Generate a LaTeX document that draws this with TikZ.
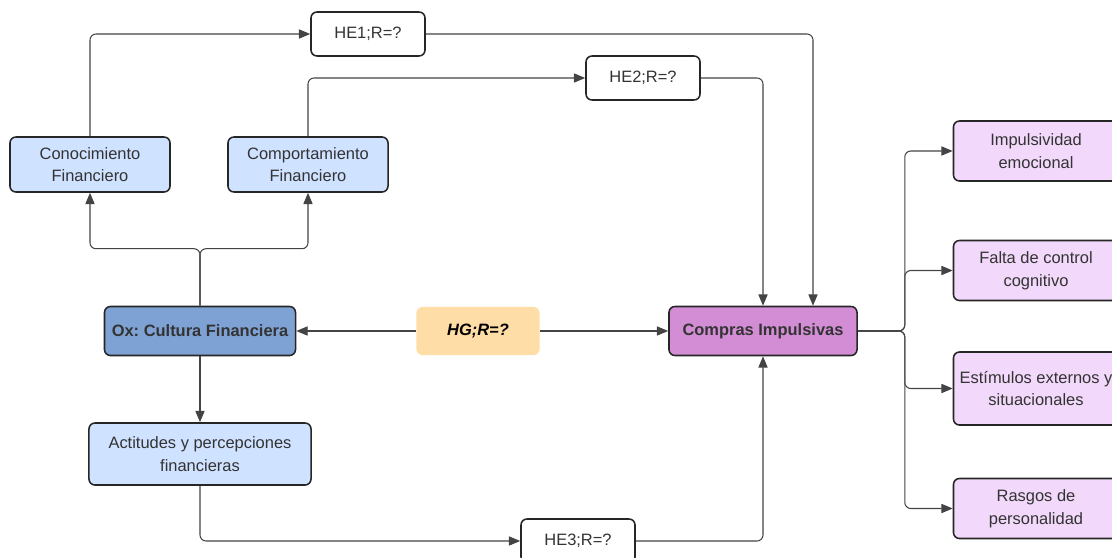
\documentclass[tikz,border=0pt]{standalone}
\usepackage{fontspec}
\setmainfont{Liberation Sans}
\usetikzlibrary{arrows.meta,calc}
\frenchspacing
\definecolor{lineg}{HTML}{444444}
\definecolor{txtg}{HTML}{333333}
\definecolor{blueL}{HTML}{CFE2FF}
\definecolor{blueD}{HTML}{7FA2D5}
\definecolor{pinkD}{HTML}{D38DD5}
\definecolor{pinkL}{HTML}{F2D8FA}
\definecolor{peach}{HTML}{FFDDA6}
\begin{document}
\begin{tikzpicture}[x=0.025cm,y=-0.025cm,font=\fontsize{11.7}{16}\selectfont]
  \tikzstyle{box}=[draw=black!85,line width=1.1pt,rounded corners=0.15cm,align=center,text=txtg,inner sep=2pt]
  \tikzstyle{hyp}=[box,fill=white,minimum width=2.85cm,minimum height=1.1cm]
  \tikzstyle{dim}=[box,fill=blueL,minimum width=4cm,minimum height=1.375cm]
  \tikzstyle{fac}=[box,fill=pinkL,minimum width=4.125cm,minimum height=1.5cm]
  \tikzstyle{arr}=[draw=lineg,line width=0.75pt,rounded corners=0.15cm,-{Triangle[length=8pt,width=6.5pt]}]
  \useasboundingbox (0,0) rectangle (1112,558);
  % hypotheses
  \node[hyp] (he1) at (368,34) {HE1;R=?};
  \node[hyp] (he2) at (643,78) {HE2;R=?};
  \node[hyp] (he3) at (578,541) {HE3;R=?};
  % dimensions
  \node[dim] (cono) at (90,164.5) {Conocimiento\\Financiero};
  \node[dim] (comport) at (308,164.5) {Comportamiento\\Financiero};
  \node[dim,minimum width=5.55cm,minimum height=1.55cm] (act) at (200,454) {Actitudes y percepciones\\financieras};
  % main variables
  \node[box,fill=blueD,minimum width=4.775cm,minimum height=1.225cm,font=\fontsize{11.7}{16}\selectfont\bfseries] (ox) at (200,331) {Ox: Cultura Financiera};
  \node[box,draw=none,fill=peach,minimum width=3.075cm,minimum height=1.2cm,font=\fontsize{11.7}{16}\selectfont\bfseries\itshape,text=black] (hg) at (478,331) {HG;R=?};
  \node[box,fill=pinkD,minimum width=4.7cm,minimum height=1.225cm,font=\fontsize{11.7}{16}\selectfont\bfseries] (comp) at (763,331) {Compras Impulsivas};
  % factors
  \node[fac] (imp) at (1036,151) {Impulsividad\\emocional};
  \node[fac] (falta) at (1036,270.5) {Falta de control\\cognitivo};
  \node[fac,minimum height=1.825cm] (estim) at (1036,388.5) {Estímulos externos y\\situacionales};
  \node[fac] (rasgos) at (1036,508.5) {Rasgos de\\personalidad};
  % connectors
  \draw[arr] (ox.north) -- ++(0,-57) -| (cono.south);
  \draw[arr] (ox.north) -- ++(0,-57) -| (comport.south);
  \draw[arr] (cono.north) |- (he1.west);
  \draw[arr] (comport.north) |- (he2.west);
  \draw[arr] (he1.east) -| ($(comp.north)+(50,0)$);
  \draw[arr] (he2.east) -| (comp.north);
  \draw[arr] (hg.west) -- (ox.east);
  \draw[arr] (hg.east) -- (comp.west);
  \draw[arr] (ox.south) -- (act.north);
  \draw[arr] (act.south) |- (he3.west);
  \draw[arr] (he3.east) -| (comp.south);
  \foreach \f in {imp,falta,estim,rasgos}
    \draw[arr] (comp.east) -- ++(47,0) |- (\f.west);
\end{tikzpicture}
\end{document}
